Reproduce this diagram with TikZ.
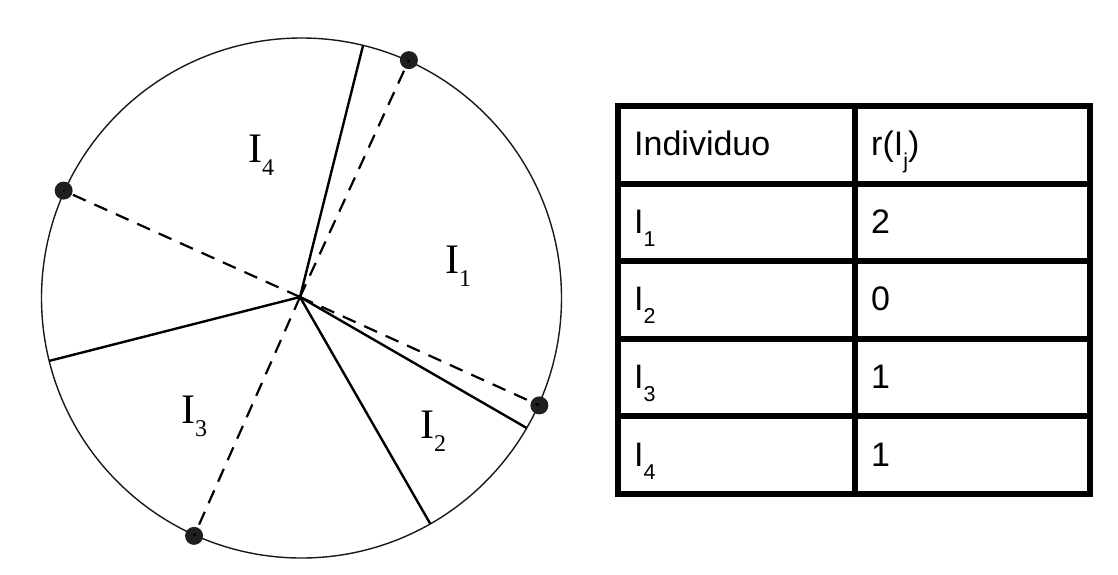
\documentclass[tikz,border=0pt]{standalone}
\usepackage{fontspec}
\setmainfont{Liberation Serif}
\newfontfamily\arialfont{Liberation Sans}
\usetikzlibrary{positioning, calc}

\newcommand\lowsub[2][21.5]{\raisebox{-13pt}{\fontsize{#1}{22}\selectfont #2}}

\begin{document}
\begin{tikzpicture}[
  x=1pt, y=-1pt,
  rim/.style={line width=1.4pt, draw=black!90},
  cut/.style={line width=2.4pt},
  ptr/.style={line width=2.2pt, dash pattern=on 14pt off 9.5pt},
  pin/.style={circle, fill=black!88, inner sep=0pt, minimum size=18pt},
  seg/.style={font=\fontsize{42}{42}\selectfont, inner sep=0pt, anchor=base west},
  cell/.style={font=\arialfont\fontsize{34}{40}\selectfont, inner sep=0pt, anchor=base west},
  grid/.style={line width=6pt}
]
\useasboundingbox (0,0) rectangle (1118,574);

% roulette wheel
\coordinate (c) at (301.5,298);
\coordinate (o) at (300,297);
\draw[rim] (c) circle[radius=260pt];

\coordinate (b1) at ($(c)+(76.3:260pt)$);
\coordinate (b2) at ($(c)+(194:260pt)$);
\coordinate (b3) at ($(c)+(-60.3:260pt)$);
\coordinate (b4) at ($(c)+(-30:260pt)$);
\draw[cut] (o) -- (b1);
\draw[cut] (o) -- (b2);
\draw[cut] (o) -- (b3);
\draw[cut] (o) -- (b4);

% equally spaced pointers
\node[pin] (p1) at ($(c)+(65.7:261pt)$) {};
\node[pin] (p2) at ($(c)+(155.7:261pt)$) {};
\node[pin] (p3) at ($(c)+(245.7:261pt)$) {};
\node[pin] (p4) at ($(c)+(335.7:261pt)$) {};
\draw[ptr] (o) -- (p1.center);
\draw[ptr] (o) -- (p2.center);
\draw[ptr] (o) -- (p3.center);
\draw[ptr] (o) -- (p4.center);

\node[seg] (s1) at (445,273) {I\lowsub[24]{1}};
\node[seg] (s2) at (420,438) {I\lowsub[24]{2}};
\node[seg] (s3) at (181,423) {I\lowsub[24]{3}};
\node[seg] (s4) at (248,162) {I\lowsub[24]{4}};

% table
\draw[grid] (618,105.5) rectangle (1090,494);
\draw[grid] (855,105.5) -- (855,494);
\draw[grid] (618,183.5) -- (1090,183.5);
\draw[grid] (618,261) -- (1090,261);
\draw[grid] (618,338.5) -- (1090,338.5);
\draw[grid] (618,416) -- (1090,416);

\node[cell] (hd1) at (634,155) {Individuo};
\node[cell] (hd2) at (871,155) {r(I\lowsub{j})};
\node[cell] (i1) at (634,233) {I\lowsub{1}};
\node[cell] (i2) at (634,310) {I\lowsub{2}};
\node[cell] (i3) at (634,388) {I\lowsub{3}};
\node[cell] (i4) at (634,466) {I\lowsub{4}};
\node[cell] (v1) at (871,233) {2};
\node[cell] (v2) at (871,310) {0};
\node[cell] (v3) at (871,388) {1};
\node[cell] (v4) at (871,466) {1};
\end{tikzpicture}
\end{document}
